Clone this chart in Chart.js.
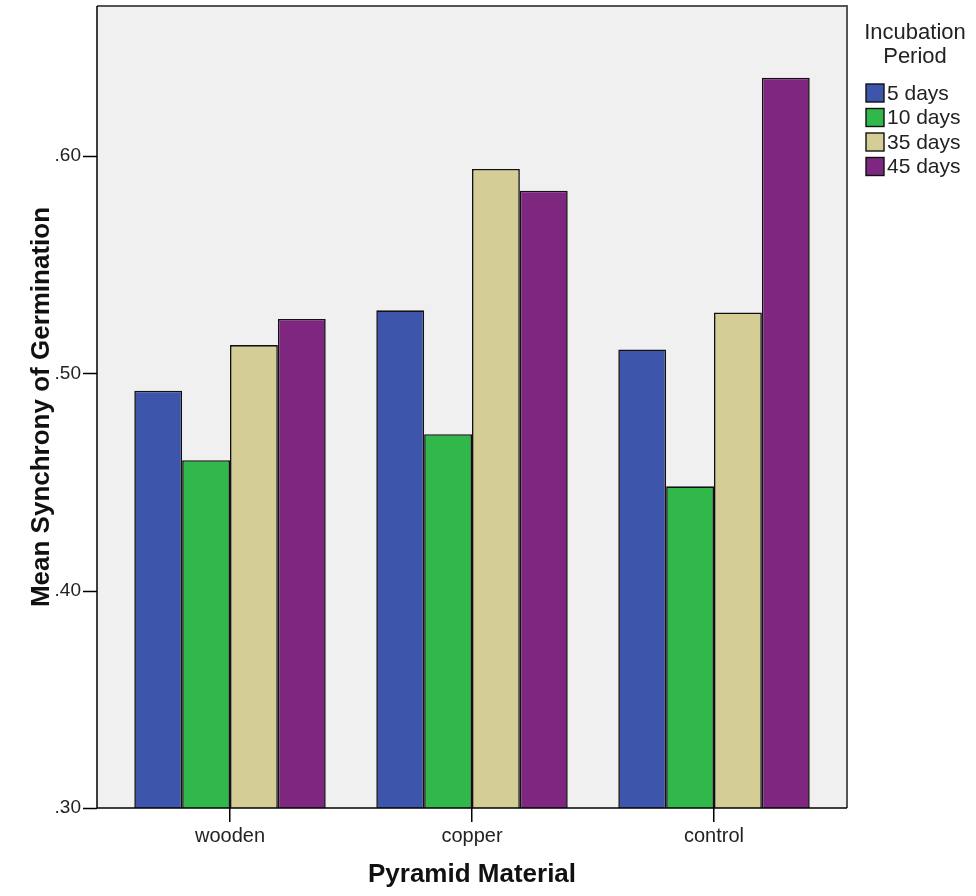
<!DOCTYPE html>
<html>
<head>
<meta charset="utf-8">
<script src="https://cdn.jsdelivr.net/npm/chart.js@4.4.0/dist/chart.umd.min.js"></script>
<style>
body { margin: 0; background: #fff; }
#wrap { width: 976px; height: 896px; position: relative; }
</style>
</head>
<body>
<div id="wrap"><canvas id="myChart"></canvas></div>
<script>
var categories = ['wooden', 'copper', 'control'];
var periods = ['5 days', '10 days', '35 days', '45 days'];
var days5 = [0.492, 0.529, 0.511];
var days10 = [0.460, 0.472, 0.448];
var days35 = [0.513, 0.594, 0.528];
var days45 = [0.525, 0.584, 0.636];
var yTicks = [0.30, 0.40, 0.50, 0.60];

var colors = ['#3D56AB', '#30B84A', '#D4CD96', '#7F2680'];
var series = [days5, days10, days35, days45];
var FONT = '"Liberation Sans", Arial, sans-serif';
var GAP = 12; // frame extends past the category range on both sides

var datasets = [];
for (var i = 0; i < periods.length; i++) {
	datasets.push({
		label: periods[i],
		data: series[i],
		backgroundColor: colors[i],
		borderColor: '#111',
		borderWidth: 1.6
	});
}

var plotBg = {
	id: 'plotBg',
	beforeDraw: function(chart) {
		var a = chart.chartArea, ctx = chart.ctx;
		ctx.save();
		ctx.fillStyle = '#F0F0F0';
		ctx.fillRect(a.left - GAP, a.top, a.right - a.left + 2 * GAP, a.bottom - a.top);
		ctx.restore();
	},
	afterDraw: function(chart) {
		var a = chart.chartArea, ctx = chart.ctx;
		var L = a.left - GAP, R = a.right + GAP;
		ctx.save();
		ctx.strokeStyle = '#555';
		ctx.lineWidth = 2;
		ctx.beginPath();
		ctx.moveTo(L, a.top);
		ctx.lineTo(R, a.top);
		ctx.lineTo(R, a.bottom);
		ctx.stroke();
		ctx.strokeStyle = '#000';
		ctx.lineWidth = 1.5;
		ctx.beginPath();
		ctx.moveTo(L, a.top);
		ctx.lineTo(L, a.bottom);
		ctx.lineTo(R, a.bottom);
		ctx.stroke();

		// y tick marks
		var ys = chart.scales.y;
		ctx.beginPath();
		for (var t = 0; t < yTicks.length; t++) {
			var py = Math.round(ys.getPixelForValue(yTicks[t])) + 0.5;
			ctx.moveTo(L - 14, py);
			ctx.lineTo(L, py);
		}
		ctx.stroke();

		// legend
		ctx.fillStyle = '#222';
		ctx.font = '22px ' + FONT;
		ctx.textAlign = 'center';
		ctx.textBaseline = 'middle';
		ctx.fillText('Incubation', 915, 33);
		ctx.fillText('Period', 915, 57);
		ctx.textAlign = 'left';
		ctx.font = '21px ' + FONT;
		var ds = chart.data.datasets;
		for (var k = 0; k < ds.length; k++) {
			var y = 84 + k * 24.5;
			ctx.fillStyle = ds[k].backgroundColor;
			ctx.fillRect(866, y, 18, 18);
			ctx.strokeStyle = '#111';
			ctx.lineWidth = 1.4;
			ctx.strokeRect(866, y, 18, 18);
			ctx.fillStyle = '#222';
			ctx.fillText(ds[k].label, 887, y + 10);
		}
		ctx.restore();
	}
};

var ctx = document.getElementById('myChart');
var myChart = new Chart(ctx, {
	type: 'bar',
	data: { labels: categories, datasets: datasets },
	plugins: [plotBg],
	options: {
		responsive: true,
		maintainAspectRatio: false,
		animation: { duration: 0 },
		layout: { padding: { top: 6, right: 141, left: 0, bottom: 0 } },
		datasets: { bar: { categoryPercentage: 0.791, barPercentage: 1 } },
		plugins: {
			legend: { display: false },
			tooltip: { enabled: false }
		},
		scales: {
			x: {
				offset: true,
				grid: { drawOnChartArea: false, offset: false, tickLength: 14, color: '#000', lineWidth: 1.5 },
				border: { display: false },
				ticks: { color: '#222', padding: 2, font: { family: FONT, size: 20 } },
				title: {
					display: true,
					text: 'Pyramid Material',
					color: '#111',
					padding: { top: 0, bottom: 6 },
					font: { family: FONT, size: 26, weight: 'bold' }
				},
				afterFit: function(scale) { scale.height = 88; }
			},
			y: {
				min: 0.30,
				max: 0.669,
				grid: { drawOnChartArea: false, drawTicks: false },
				border: { display: false },
				afterBuildTicks: function(scale) {
					scale.ticks = yTicks.map(function(v) { return { value: v }; });
				},
				ticks: {
					color: '#222',
					padding: 2 + 14 + GAP,
					font: { family: FONT, size: 19 },
					callback: function(v) { return v.toFixed(2).replace(/^0/, ''); }
				},
				title: {
					display: true,
					text: 'Mean Synchrony of Germination',
					color: '#111',
					padding: { top: 26, bottom: 0 },
					font: { family: FONT, size: 26, weight: 'bold' }
				},
				afterFit: function(scale) {
					scale.width = 97 + GAP;
					scale.paddingTop = 0;
					scale.paddingBottom = 0;
				}
			}
		}
	}
});
</script>
</body>
</html>
